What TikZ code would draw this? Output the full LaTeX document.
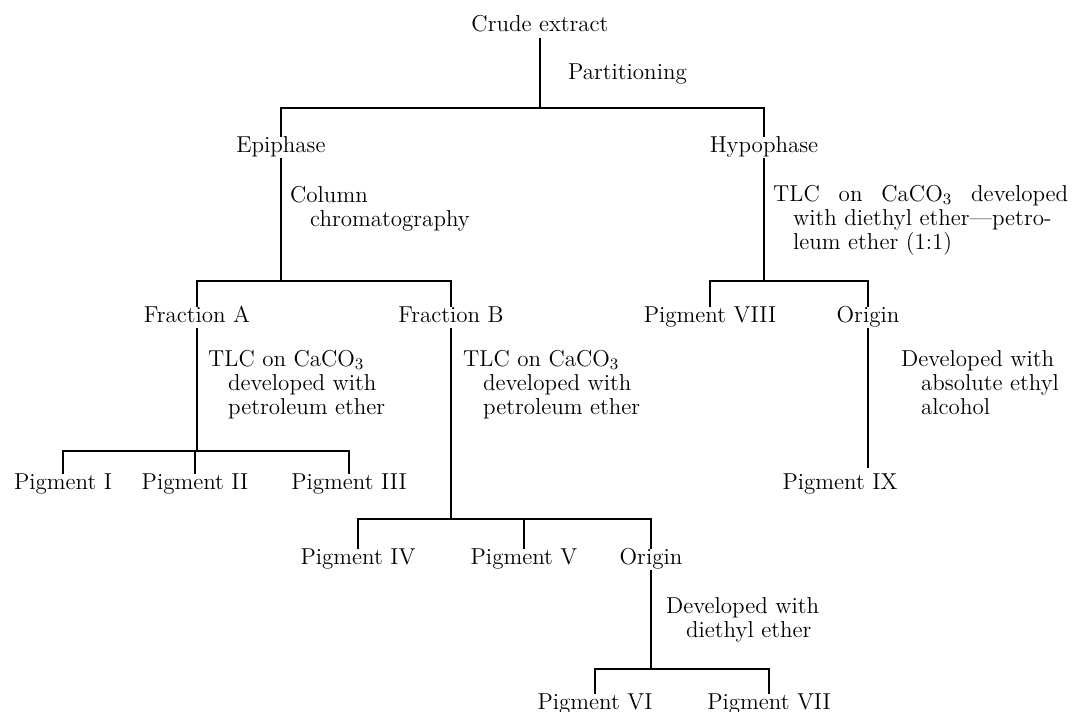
\documentclass[tikz,border=0pt]{standalone}
\usepackage{fontspec}
\usepackage{tikz}
\usetikzlibrary{positioning,calc}

% indent of the follow-on lines in the step notes
\newcommand{\tabind}{\hspace*{10pt}}

\begin{document}
\begin{tikzpicture}[x=0.5pt, y=-0.5pt, line width=1.2pt,
        every node/.style={font=\fontsize{11.5}{12}\selectfont, inner sep=0pt},
        stage/.style={anchor=base, text height=0.683em, text depth=0.25em},
        process/.style={anchor=base west}]
    \useasboundingbox (0,0) rectangle (1072,712);

    % Levels of the horizontal bars
    \coordinate (bar1) at (0,108);
    \coordinate (bar2) at (0,281);
    \coordinate (bar3) at (0,451);
    \coordinate (bar4) at (0,519);
    \coordinate (bar5) at (0,669);

    % Stages of the separation
    \node[stage] (crude) at (540,32) {Crude extract};
    \node[stage] (epi) at (281,152) {Epiphase};
    \node[stage] (hypo) at (764,152) {Hypophase};
    \node[stage] (fracA) at (197,322) {Fraction A};
    \node[stage] (fracB) at (451,322) {Fraction B};
    \node[stage] (pVIII) at (710,322) {Pigment VIII};
    \node[stage] (orig1) at (868,322) {Origin};
    \node[stage] (pI) at (63,489) {Pigment I};
    \node[stage] (pII) at (195,489) {Pigment II};
    \node[stage] (pIII) at (349,489) {Pigment III};
    \node[stage] (pIX) at (840,489) {Pigment IX};
    \node[stage] (pIV) at (358,564) {Pigment IV};
    \node[stage] (pV) at (524,564) {Pigment V};
    \node[stage] (orig2) at (651,564) {Origin};
    \node[stage] (pVI) at (595,709) {Pigment VI};
    \node[stage] (pVII) at (769,709) {Pigment VII};

    % Notes on each step
    \node[process] (partition) at (567,79) {Partitioning};
    \node[process] (column) at (289,202)
        {\begin{tabular}[t]{@{}l@{}}Column\\ \tabind chromatography\end{tabular}};
    \node[process] (tlcHypo) at (772,201)
        {\begin{tabular}[t]{@{}l@{}}\makebox[147.5pt][s]{TLC on CaCO$_3$ developed}\\
        \tabind with diethyl ether---petro-\\ \tabind leum ether (1:1)\end{tabular}};
    \node[process] (tlcA) at (207,366)
        {\begin{tabular}[t]{@{}l@{}}TLC on CaCO$_3$\\ \tabind developed with\\
        \tabind petroleum ether\end{tabular}};
    \node[process] (tlcB) at (462,366)
        {\begin{tabular}[t]{@{}l@{}}TLC on CaCO$_3$\\ \tabind developed with\\
        \tabind petroleum ether\end{tabular}};
    \node[process] (devAbs) at (900,366)
        {\begin{tabular}[t]{@{}l@{}}Developed with\\ \tabind absolute ethyl\\
        \tabind alcohol\end{tabular}};
    \node[process] (devEth) at (665,613)
        {\begin{tabular}[t]{@{}l@{}}Developed with\\ \tabind diethyl ether\end{tabular}};

    % Crude extract
    \draw (crude.south) -- (crude |- bar1);
    \draw (epi.north) |- (hypo |- bar1) -- (hypo.north);
    % Epiphase
    \draw (epi.south) -- (epi |- bar2);
    \draw (fracA.north) |- (fracB |- bar2) -- (fracB.north);
    % Hypophase
    \draw (hypo.south) -- (hypo |- bar2);
    \draw (pVIII.north) |- (orig1 |- bar2) -- (orig1.north);
    \draw (orig1.south) -- ($(orig1 |- pIX.north)+(0,-6)$);
    % Fraction A
    \draw (fracA.south) -- (fracA |- bar3);
    \draw (pI.north) |- (pIII |- bar3) -- (pIII.north);
    \draw (pII.north) -- (pII |- bar3);
    % Fraction B
    \draw (fracB.south) -- (fracB |- bar4);
    \draw (pIV.north) |- (orig2 |- bar4) -- (orig2.north);
    \draw (pV.north) -- (pV |- bar4);
    % Origin of fraction B
    \draw (orig2.south) -- (orig2 |- bar5);
    \draw (pVI.north) |- (pVII |- bar5) -- (pVII.north);
\end{tikzpicture}
\end{document}
